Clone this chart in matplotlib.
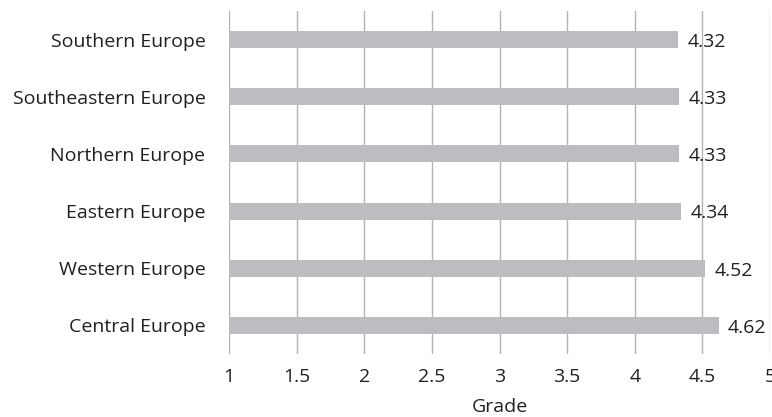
import matplotlib.pyplot as plt

# data, bottom to top
regions = ["Central Europe", "Western Europe", "Eastern Europe",
           "Northern Europe", "Southeastern Europe", "Southern Europe"]
grades = [4.62, 4.52, 4.34, 4.33, 4.33, 4.32]
xticks = [1, 1.5, 2, 2.5, 3, 3.5, 4, 4.5, 5]

plt.rcParams['font.family'] = ['Open Sans', 'DejaVu Sans']
txt = '#231f20'
fs = 14

fig = plt.figure(figsize=(7.72, 4.17), dpi=100)
ax = fig.add_axes([229/772, 1 - 354/417, 541/772, 343/417])

ypos = list(range(len(regions)))
ax.barh(ypos, grades, height=0.3, color='#bcbdc0', zorder=2)

# value labels to the right of each bar
for y, v in zip(ypos, grades):
    ax.text(v + 0.07, y - 0.04, f"{v:.2f}", va='center', ha='left',
            fontsize=fs, color=txt, zorder=3)

ax.set_xlim(1, 5)
ax.set_ylim(-0.5, len(regions) - 0.5)
ax.set_xticks(xticks)
ax.set_xticklabels([f"{t:g}" for t in xticks])
ax.set_yticks(ypos)
ax.set_yticklabels(regions)
ax.tick_params(axis='both', length=0, labelsize=fs, labelcolor=txt)
ax.tick_params(axis='y', pad=17)
ax.tick_params(axis='x', pad=10)
ax.grid(axis='x', color='#b3b3b3', linewidth=1, zorder=0)
for s in ax.spines.values():
    s.set_visible(False)
ax.set_xlabel("Grade", fontsize=fs, color=txt, labelpad=9)

fig.savefig("out.png", dpi=100)
